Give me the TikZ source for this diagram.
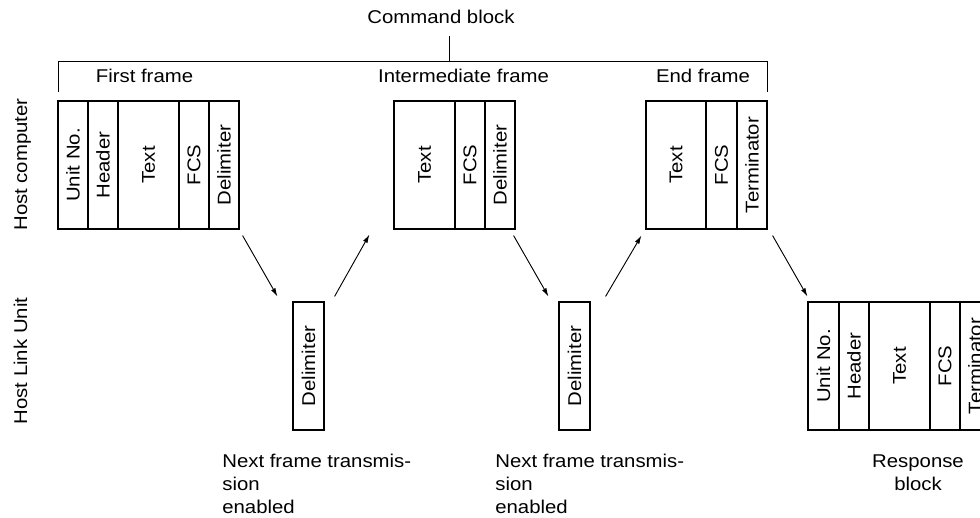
\documentclass[tikz,border=0pt]{standalone}
\usepackage{fontspec}
\setmainfont[FakeStretch=1.1]{Liberation Sans}
\usepackage{tikz}
\usetikzlibrary{arrows.meta, calc, positioning}

\begin{document}
\begin{tikzpicture}[x=0.6pt, y=-0.6pt, font=\fontsize{11.1}{13.8}\selectfont,
  cell/.style={draw, line width=0.7pt, minimum height=76.8pt, inner sep=0pt},
  lbl/.style={inner sep=0pt, anchor=base},
  arr/.style={-{Latex[length=5pt,width=3pt]}, line width=0.55pt}]
\useasboundingbox (0,0) rectangle (980,518);
\fill[white] (0,0) rectangle (980,518);
\clip (0,0) rectangle (980,518);
\node[lbl] (cmd) at (441,23.3) {Command block};
\coordinate (stub) at (449,36);
\coordinate (top) at (449,62);
\draw[line width=0.6pt] (58,92) -- (58,62) -- (767,62) -- (767,92);
\draw[line width=0.6pt] (stub) -- (top);
\node[lbl] (ff) at (144.5,83) {First frame};
\node[lbl] (imf) at (463.5,83) {Intermediate frame};
\node[lbl] (ef) at (703,83) {End frame};
\node[lbl, rotate=90] (hc) at (27,164.5) {Host computer};
\node[lbl, rotate=90] (hlu) at (27,361) {Host Link Unit};
\foreach \nm/\x/\w/\txt in {f1/73/18pt/Unit No., f2/103/18pt/Header, f3/148.5/36.6pt/Text, f4/194/18pt/FCS, f5/224/18pt/Delimiter,
    i1/424.5/36.6pt/Text, i2/470/18pt/FCS, i3/500/18pt/Delimiter,
    e1/676/36pt/Text, e2/721.5/18.6pt/FCS, e3/752/18pt/Terminator}
  \node[cell, minimum width=\w] (\nm) at (\x,165) {\rotatebox{90}{\txt}};
\foreach \nm/\x/\w/\txt in {r1/823.5/18.6pt/Unit No., r2/854/18pt/Header, r3/899.5/36.6pt/Text, r4/945/18pt/FCS, r5/975/18pt/Terminator,
    d1/308.5/18.6pt/Delimiter, d2/574.5/18.6pt/Delimiter}
  \node[cell, minimum width=\w] (\nm) at (\x,366) {\rotatebox{90}{\txt}};
\draw[arr] ([shift={(3,6)}]f5.south east) -- ([shift={(-15,-5)}]d1.north west);
\draw[arr] ([shift={(10,-5)}]d1.north east) -- ([shift={(-24,5)}]i1.south west);
\draw[arr] ([shift={(-2,6)}]i3.south east) -- ([shift={(-10,-5)}]d2.north west);
\draw[arr] ([shift={(15,-5)}]d2.north east) -- ([shift={(-4,6)}]e1.south west);
\draw[arr] ([shift={(5,6)}]e3.south east) -- ([shift={(0,-5)}]r1.north west);
\node[anchor=north west, align=left, inner sep=0pt] (nx1) at (222,454) {Next frame transmis-\\sion\\enabled};
\node[anchor=north west, align=left, inner sep=0pt] (nx2) at (495,454) {Next frame transmis-\\sion\\enabled};
\node[anchor=north, align=center, inner sep=0pt] (resp) at (918,454) {Response\\block};
\end{tikzpicture}
\end{document}
